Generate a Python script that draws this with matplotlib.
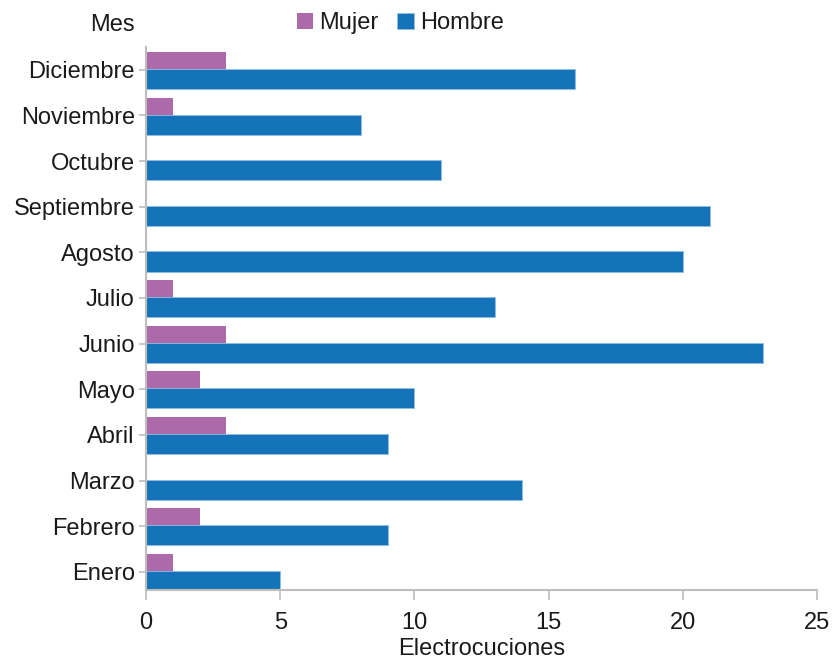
import matplotlib.pyplot as plt
import numpy as np

plt.rcParams['font.family'] = ['Liberation Sans', 'DejaVu Sans']

# data
meses = ['Enero', 'Febrero', 'Marzo', 'Abril', 'Mayo', 'Junio', 'Julio',
         'Agosto', 'Septiembre', 'Octubre', 'Noviembre', 'Diciembre']
mujer = [1, 2, 0, 3, 2, 3, 1, 0, 0, 0, 1, 3]
hombre = [5, 9, 14, 9, 10, 23, 13, 20, 21, 11, 8, 16]

c_mujer = '#ac6aaa'
c_hombre = '#1573ba'
gris = '#bdbdbd'
texto = '#1a1a1a'

fig = plt.figure(figsize=(8.36, 6.6), dpi=100)
ax = fig.add_axes([0.1746, 0.106, 0.8027, 0.8228])

y = np.arange(len(meses))
ax.barh(y + 0.19, mujer, height=0.4, color=c_mujer, label='Mujer')
ax.barh(y - 0.2, hombre, height=0.44, color=c_hombre, label='Hombre',
        edgecolor='#8fbfe3', linewidth=0.6)

ax.set_xlim(0, 25)
ax.set_ylim(-0.4, 11.5)
ax.set_xticks([0, 5, 10, 15, 20, 25])
ax.set_yticks(y)
ax.set_yticklabels(meses)
ax.tick_params(axis='both', labelsize=17, color=gris, labelcolor=texto,
               width=1.2)
ax.tick_params(axis='y', length=5, pad=3)
ax.tick_params(axis='x', length=7, pad=9)

for s in ['top', 'right']:
    ax.spines[s].set_visible(False)
for s in ['left', 'bottom']:
    ax.spines[s].set_color(gris)
    ax.spines[s].set_linewidth(1.5)

ax.set_xlabel('Electrocuciones', fontsize=17, color=texto, labelpad=3)
fig.text(0.134, 0.962, 'Mes', fontsize=17, ha='center', va='center', color=texto)

ax.legend(loc='center', bbox_to_anchor=(0.379, 1.044), ncol=2, frameon=False,
          fontsize=17, handlelength=0.7, handleheight=0.7, handletextpad=0.25,
          columnspacing=0.8, labelcolor=texto, borderpad=0)

plt.savefig('out.png', dpi=100)
